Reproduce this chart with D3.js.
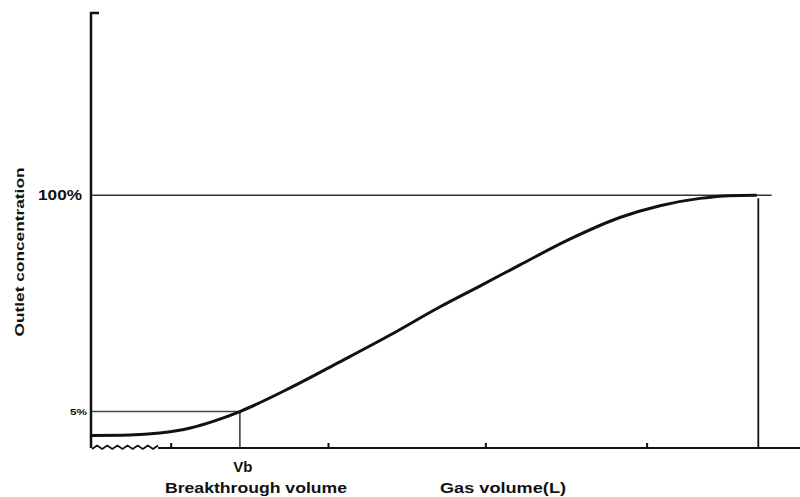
<!DOCTYPE html>
<html>
<head>
<meta charset="utf-8">
<script src="https://cdn.jsdelivr.net/npm/d3@7"></script>
<style>
  body { margin: 0; background: #fff; }
  text { font-family: "Liberation Sans", Arial, sans-serif; fill: #111; }
</style>
</head>
<body>
<div class="chart"></div>
<script>
var svgWidth = 800;
var svgHeight = 497;

// breakthrough curve, gas volume (arbitrary units) vs outlet concentration (%)
var gasVolume = [0, 0.48, 0.86, 1.25, 1.56, 1.88, 2.52, 3.15, 3.79, 4.42, 4.93, 5.44, 6.08, 6.71, 7.22, 7.73, 8.1, 8.45];
var outletConc = [-5.5, -5.3, -4.4, -2.2, 0.9, 5.0, 15.4, 26.8, 38.6, 50.9, 60.1, 69.4, 80.8, 90.2, 95.4, 98.6, 99.8, 100];

var xTicks = [1, 3, 5, 7.05];
var vbVolume = 1.88;
var breakPct = 5;
var fullPct = 100;
var saturationVolume = 8.47;
var fullLineEnd = 8.64;
var axisBreakEnd = 0.84;

var svg = d3.select(".chart")
  .append("svg")
  .attr("width", svgWidth)
  .attr("height", svgHeight);

var xScale = d3.scaleLinear().domain([0, 9]).range([92, 800]);
var yScale = d3.scaleLinear().domain([-11, 180]).range([448, 13]);

var ink = "#111";

// y axis with little stub at the top
svg.append("path")
  .attr("d", `M${xScale(0) + 7},${yScale(180)} H${xScale(0) - 1} V${yScale(-11)}`)
  .attr("fill", "none")
  .attr("stroke", ink)
  .attr("stroke-width", 2.5);

// x axis: zigzag break then straight line
var zig = d3.range(0, 14).map(function(i) {
  var x = xScale(0) + i * (xScale(axisBreakEnd) - xScale(0)) / 13;
  return [x, yScale(-11) + (i % 2 ? -2.5 : 1)];
});
svg.append("path")
  .attr("d", d3.line()(zig))
  .attr("fill", "none")
  .attr("stroke", ink)
  .attr("stroke-width", 1.8);

svg.append("line")
  .attr("x1", xScale(axisBreakEnd)).attr("x2", xScale(9))
  .attr("y1", yScale(-11)).attr("y2", yScale(-11))
  .attr("stroke", ink)
  .attr("stroke-width", 2.2);

var bottomAxis = d3.axisBottom(xScale)
  .tickValues(xTicks)
  .tickSize(-5)
  .tickFormat("");

svg.append("g")
  .attr("transform", `translate(0, ${yScale(-11)})`)
  .call(bottomAxis)
  .call(g => g.select(".domain").remove())
  .call(g => g.selectAll(".tick line").attr("stroke", ink).attr("stroke-width", 2));

// 100% line and the saturation drop line
svg.append("line")
  .attr("x1", xScale(0)).attr("x2", xScale(fullLineEnd))
  .attr("y1", yScale(fullPct)).attr("y2", yScale(fullPct))
  .attr("stroke", "#333")
  .attr("stroke-width", 1.6);

svg.append("line")
  .attr("x1", xScale(saturationVolume)).attr("x2", xScale(saturationVolume))
  .attr("y1", yScale(fullPct) + 3).attr("y2", yScale(-11))
  .attr("stroke", ink)
  .attr("stroke-width", 1.8);

// 5% breakthrough lines
svg.append("line")
  .attr("x1", xScale(0)).attr("x2", xScale(vbVolume))
  .attr("y1", yScale(breakPct)).attr("y2", yScale(breakPct))
  .attr("stroke", "#444")
  .attr("stroke-width", 1.5);

svg.append("line")
  .attr("x1", xScale(vbVolume)).attr("x2", xScale(vbVolume))
  .attr("y1", yScale(breakPct)).attr("y2", yScale(-11))
  .attr("stroke", "#333")
  .attr("stroke-width", 1.5);

// the curve
var curveData = gasVolume.map((v, i) => ({ v: v, c: outletConc[i] }));
svg.append("path")
  .datum(curveData)
  .attr("d", d3.line()
    .x(d => xScale(d.v))
    .y(d => yScale(d.c))
    .curve(d3.curveMonotoneX))
  .attr("fill", "none")
  .attr("stroke", ink)
  .attr("stroke-width", 3);

// labels
svg.append("text")
  .attr("x", 38).attr("y", yScale(fullPct) + 5)
  .attr("font-size", 14).attr("font-weight", "bold")
  .attr("textLength", 44).attr("lengthAdjust", "spacingAndGlyphs")
  .text("100%");

svg.append("text")
  .attr("x", 70).attr("y", yScale(breakPct) + 3)
  .attr("font-size", 9).attr("font-weight", "bold")
  .attr("fill", "#444")
  .attr("textLength", 17).attr("lengthAdjust", "spacingAndGlyphs")
  .text("5%");

svg.append("text")
  .attr("transform", `translate(24, 252) rotate(-90)`)
  .attr("text-anchor", "middle")
  .attr("font-size", 13).attr("font-weight", "bold")
  .attr("textLength", 169).attr("lengthAdjust", "spacingAndGlyphs")
  .text("Outlet concentration");

svg.append("text")
  .attr("x", xScale(vbVolume) + 3).attr("y", 472)
  .attr("text-anchor", "middle")
  .attr("font-size", 15).attr("font-weight", "bold")
  .text("Vb");

svg.append("text")
  .attr("x", 165).attr("y", 493)
  .attr("font-size", 15).attr("font-weight", "bold")
  .attr("textLength", 182).attr("lengthAdjust", "spacingAndGlyphs")
  .text("Breakthrough volume");

svg.append("text")
  .attr("x", 440).attr("y", 493)
  .attr("font-size", 15).attr("font-weight", "bold")
  .attr("textLength", 126).attr("lengthAdjust", "spacingAndGlyphs")
  .text("Gas volume(L)");
</script>
</body>
</html>
